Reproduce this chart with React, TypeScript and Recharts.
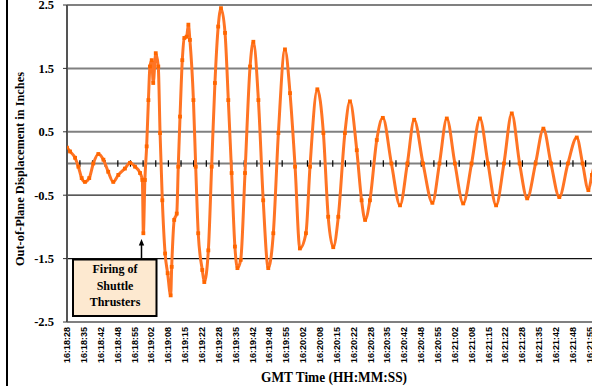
import React from 'react';
import { ComposedChart, Line, XAxis, YAxis, ReferenceLine } from 'recharts';

// seconds after 16:18:28 GMT
const TIME_S = [
  0.0, 1.2, 3.2, 4.5, 5.8, 7.1, 8.8, 10.4, 12.4, 14.4, 16.3, 18.3, 20.3, 22.9, 24.9, 26.9, 28.9, 29.8,
  30.2, 30.8, 31.5, 32.2, 32.8, 33.5, 34.1, 35.1, 36.1, 36.8, 37.7, 38.8, 39.8, 41.0, 41.4, 42.4, 43.4,
  44.0, 44.7, 45.6, 46.4, 47.3, 48.0, 48.6, 50.0, 50.9, 51.9, 53.5, 54.3, 55.9, 57.2, 58.5, 59.8, 60.9,
  62.5, 63.8, 65.1, 66.4, 67.4, 68.7, 70.4, 72.4, 73.7, 75.7, 77.6, 79.6, 81.6, 83.6, 86.2, 88.2, 90.2,
  92.1, 94.5, 96.1, 99.0, 101.4, 103.3, 105.3, 107.3, 109.9, 111.9, 114.6, 116.5, 117.9, 119.8, 122.5,
  124.9, 128.3, 131.7, 134.6, 137.3, 140.8, 144.5, 147.3, 150.2, 153.4, 156.7, 160.0, 163.3, 166.5,
  169.7, 172.8, 175.9, 179.0, 182.0, 185.3, 188.4, 191.4, 194.7, 198.1, 201.6, 203.9, 206.2, 207.6, 208.8,
];

// out-of-plane displacement, inches
const DISP_IN = [
  0.25, 0.19, 0.09, -0.05, -0.23, -0.29, -0.23, 0.0, 0.15, 0.06, -0.13, -0.29, -0.18, -0.08, 0.01, -0.05, -0.15, -0.26,
  -1.10, -0.26, 0.27, 1.0, 1.53, 1.63, 1.27, 1.74, 1.53, 0.48, -0.58, -1.42, -1.73, -2.08, -1.63, -0.89, -0.79,
  -0.05, 0.74, 1.63, 1.98, 2.0, 2.19, 1.95, 1.0, -0.05, -1.1, -1.68, -1.87, -1.37, -0.05, 1.27, 2.16, 2.45,
  2.06, 1.0, -0.15, -1.31, -1.65, -1.52, -0.15, 1.53, 1.92, 1.0, -0.58, -1.65, -1.1, 0.48, 1.80, 1.11, -0.05,
  -1.34, -1.1, -0.05, 1.17, 0.48, -0.84, -1.32, -0.84, 0.48, 0.98, 0.21, -0.58, -0.89, -0.58, 0.37,
  0.72, 0.0, -0.66, 0.0, 0.69, 0.0, -0.62, 0.0, 0.71, 0.0, -0.63, 0.0, 0.71, 0.0,
  -0.66, 0.0, 0.79, 0.0, -0.55, 0.0, 0.55, 0.0, -0.53, 0.0, 0.41, 0.0, -0.42, -0.18, 0.02,
];

const TICK_TIMES = [
  0, 6.667, 13.333, 20, 26.667, 33.333, 40, 46.667, 53.333, 60, 66.667, 73.333, 80, 86.667, 93.333, 100,
  106.667, 113.333, 120, 126.667, 133.333, 140, 146.667, 153.333, 160, 166.667, 173.333, 180, 186.667,
  193.333, 200, 206.667,
];
const TICK_LABELS = [
  '16:18:28', '16:18:35', '16:18:42', '16:18:48', '16:18:55', '16:19:02', '16:19:08', '16:19:15',
  '16:19:22', '16:19:28', '16:19:35', '16:19:42', '16:19:48', '16:19:55', '16:20:02', '16:20:08',
  '16:20:15', '16:20:22', '16:20:28', '16:20:35', '16:20:42', '16:20:48', '16:20:55', '16:21:02',
  '16:21:08', '16:21:15', '16:21:22', '16:21:28', '16:21:35', '16:21:42', '16:21:48', '16:21:55',
];
const Y_TICKS = [-2.5, -1.5, -0.5, 0.5, 1.5, 2.5];
const ZERO_TICKS = [
  5.1, 10.1, 15.1, 20.1, 25.1, 30.1, 35.1, 40.1, 45.1, 50.1, 55.1, 60.1, 65.1, 70.1, 75.1, 80.1, 85.1,
  90.1, 95.1, 100.1, 105.1, 110.1, 115.1, 120.1, 125.1, 130.1, 135.1, 140.1, 145.1, 150.1, 155.1, 160.1,
  165.1, 170.1, 175.1, 180.1, 185.1, 190.1, 195.1, 200.1, 205.1,
];

const data = TIME_S.map((t, i) => ({ t, v: DISP_IN[i] }));

const SERIF = '"Liberation Serif", "Times New Roman", serif';
const SANS = '"Liberation Sans", Arial, sans-serif';
const ORANGE = '#FF6600';

function XTick(props: any) {
  const { x, payload } = props;
  const i = TICK_TIMES.findIndex((v) => Math.abs(v - payload.value) < 0.01);
  const label = i >= 0 ? TICK_LABELS[i] : '';
  const tx = x + 3.2;
  const ty = 327;
  return (
    <text
      x={tx}
      y={ty}
      transform={`rotate(-90, ${tx}, ${ty})`}
      textAnchor="end"
      fontSize={9}
      fontWeight="bold"
      fontFamily={SANS}
      fill="#000"
    >
      {label}
    </text>
  );
}

function YTitle() {
  return (
    <text
      x={24}
      y={169}
      transform="rotate(-90, 24, 169)"
      textAnchor="middle"
      fontSize={12}
      fontWeight="bold"
      fontFamily={SERIF}
      fill="#000"
      textLength={194}
      lengthAdjust="spacingAndGlyphs"
    >
      Out-of-Plane Displacement in Inches
    </text>
  );
}

function XTitle() {
  return (
    <text
      x={334}
      y={382}
      textAnchor="middle"
      fontSize={14}
      fontWeight="bold"
      fontFamily={SERIF}
      fill="#000"
      textLength={146}
      lengthAdjust="spacingAndGlyphs"
    >
      GMT Time (HH:MM:SS)
    </text>
  );
}

function SquareDot(props: any) {
  const { cx, cy } = props;
  if (cx == null || cy == null) return null;
  return <rect x={cx - 1.9} y={cy - 1.9} width={3.8} height={3.8} fill={ORANGE} />;
}

export default function App() {
  return (
    <div
      style={{
        position: 'fixed',
        left: 0,
        top: 0,
        width: 592,
        height: 386,
        overflow: 'hidden',
        background: '#fff',
      }}
    >
      <div style={{ position: 'absolute', left: 6, top: 0, width: 2, height: 386, background: '#000' }} />
      <ComposedChart
        width={600}
        height={386}
        data={data}
        margin={{ top: 5, right: 2, bottom: 0, left: 0 }}
      >
        <XAxis
          dataKey="t"
          type="number"
          domain={[0, 210]}
          ticks={TICK_TIMES}
          interval={0}
          tick={<XTick />}
          tickLine={false}
          axisLine={{ stroke: '#808080', strokeWidth: 2 }}
          height={64}
          label={<XTitle />}
          allowDataOverflow
        />
        <YAxis
          type="number"
          domain={[-2.5, 2.5]}
          ticks={Y_TICKS}
          interval={0}
          width={67}
          tickSize={4}
          tickMargin={9}
          tickFormatter={(v: number) => v.toFixed(1)}
          tick={{ fontSize: 12.5, fontWeight: 'bold', fontFamily: SERIF, fill: '#000' }}
          tickLine={{ stroke: '#333' }}
          axisLine={{ stroke: '#555', strokeWidth: 2 }}
          label={<YTitle />}
        />
        <ReferenceLine y={2.5} stroke="#808080" strokeWidth={2} />
        <ReferenceLine y={1.5} stroke="#808080" strokeWidth={2} />
        <ReferenceLine y={0.5} stroke="#808080" strokeWidth={2} />
        <ReferenceLine y={-0.5} stroke="#222" strokeWidth={1.3} />
        <ReferenceLine y={-1.5} stroke="#111" strokeWidth={1.3} />
        <ReferenceLine y={0} stroke="#808080" strokeWidth={2} />
        {ZERO_TICKS.map((t) => (
          <ReferenceLine
            key={t}
            segment={[
              { x: t, y: -0.05 },
              { x: t, y: 0.05 },
            ]}
            stroke="#000"
            strokeWidth={1.2}
          />
        ))}
        <Line
          dataKey="v"
          type="monotone"
          stroke="#FF7424"
          strokeWidth={3}
          dot={<SquareDot />}
          activeDot={false}
          isAnimationActive={false}
        />
      </ComposedChart>
      <svg
        width={592}
        height={386}
        style={{ position: 'absolute', left: 0, top: 0, pointerEvents: 'none' }}
      >
        <line x1={141.5} y1={258} x2={141.5} y2={244} stroke="#000" strokeWidth={1.5} />
        <polygon points="141.5,239 138.8,245.5 144.2,245.5" fill="#000" />
        <rect x={73} y={259.5} width={83.5} height={56.5} fill="#FDE9D0" stroke="#000" strokeWidth={2} />
        <text x={115} y={273} textAnchor="middle" fontSize={12} fontWeight="bold" fontFamily={SERIF} fill="#000">
          Firing of
        </text>
        <text x={115} y={289.5} textAnchor="middle" fontSize={12} fontWeight="bold" fontFamily={SERIF} fill="#000">
          Shuttle
        </text>
        <text x={115} y={306} textAnchor="middle" fontSize={12} fontWeight="bold" fontFamily={SERIF} fill="#000">
          Thrusters
        </text>
      </svg>
    </div>
  );
}
